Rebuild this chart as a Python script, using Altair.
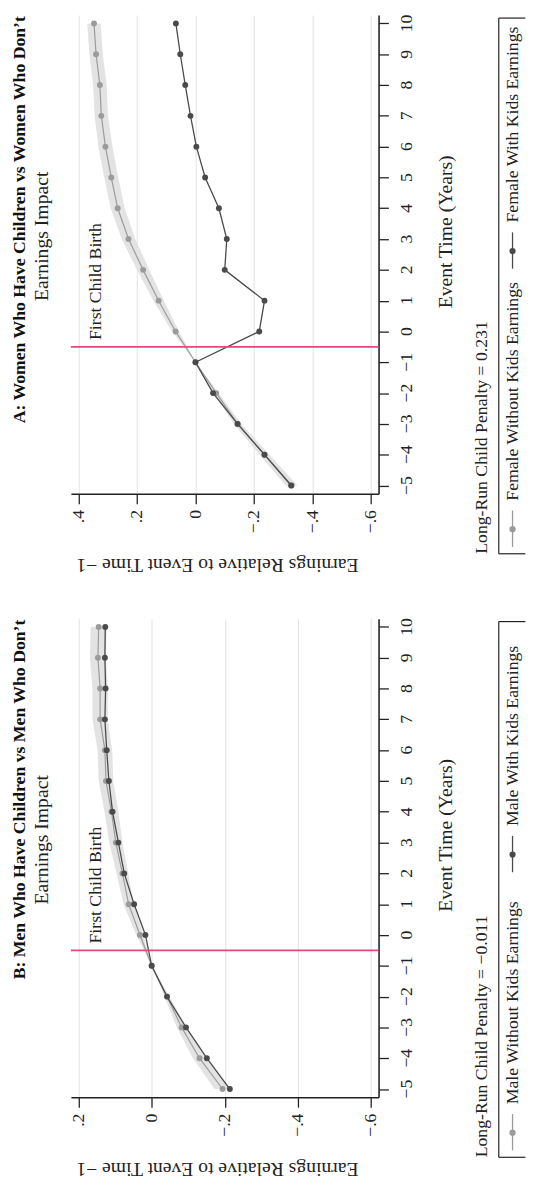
import altair as alt
import pandas as pd

# ---------------- data ----------------
event_time = list(range(-5, 11))

female_without = [-0.329, -0.236, -0.144, -0.071, 0.0, 0.068, 0.126, 0.179,
                  0.229, 0.266, 0.288, 0.308, 0.322, 0.327, 0.340, 0.347]
female_with = [-0.327, -0.236, -0.144, -0.060, 0.0, -0.218, -0.236, -0.100,
               -0.107, -0.080, -0.033, -0.003, 0.017, 0.035, 0.052, 0.067]
female_band_half = [0.020, 0.017, 0.013, 0.008, 0.0, 0.012, 0.018, 0.021,
                    0.023, 0.024, 0.024, 0.024, 0.023, 0.023, 0.023, 0.023]

male_without = [-0.194, -0.131, -0.082, -0.042, 0.0, 0.032, 0.063, 0.080,
                0.098, 0.110, 0.125, 0.128, 0.141, 0.141, 0.147, 0.145]
male_with = [-0.214, -0.151, -0.094, -0.042, 0.0, 0.017, 0.048, 0.075,
             0.091, 0.107, 0.117, 0.123, 0.128, 0.126, 0.128, 0.127]
male_band_half = [0.022, 0.018, 0.013, 0.007, 0.0, 0.010, 0.014, 0.016,
                  0.018, 0.019, 0.020, 0.020, 0.021, 0.021, 0.022, 0.022]

value_ticks_a = [0.4, 0.2, 0.0, -0.2, -0.4, -0.6]
value_ticks_b = [0.2, 0.0, -0.2, -0.4, -0.6]
value_domain_a = [-0.626, 0.426]
value_domain_b = [-0.621, 0.221]
time_domain = [-5.27, 10.27]
first_birth = -0.5

titles = ["A: Women Who Have Children vs Women Who Don\u2019t",
          "B: Men Who Have Children vs Men Who Don\u2019t"]
subtitle = "Earnings Impact"
birth_label = "First Child Birth"
penalty_labels = ["Long-Run Child Penalty = 0.231",
                  "Long-Run Child Penalty = \u22120.011"]
legend_labels = [["Female Without Kids Earnings", "Female With Kids Earnings"],
                 ["Male Without Kids Earnings", "Male With Kids Earnings"]]
x_title = "Earnings Relative to Event Time \u22121"
y_title = "Event Time (Years)"

# ---------------- style ----------------
FONT = "Liberation Serif"
W, H = 313, 487
LIGHT = "#9b9b9b"
DARK = "#4a4a4a"
BAND = "#e3e3e3"
RED = "#e8467c"
AXIS = "#222222"
TEXT = "#222222"
FS = 18
TFS = 20


def one(label):
    return alt.Chart(pd.DataFrame({"label": [label]}))


def panel(idx, without, with_, half, domain, ticks):
    df = pd.DataFrame({
        "t": event_time,
        "without": without,
        "with": with_,
        "lo": [w - h for w, h in zip(without, half)],
        "hi": [w + h for w, h in zip(without, half)],
        "tlabel": [str(t).replace("-", "\u2212") for t in event_time],
    })
    xs = alt.Scale(domain=domain, reverse=True, nice=False, zero=False)
    ys = alt.Scale(domain=time_domain, nice=False, zero=False)
    x_axis = alt.Axis(
        values=ticks, orient="bottom", title=x_title,
        grid=True, gridColor="#e2e2e2", gridWidth=1,
        domainColor=AXIS, domainWidth=1.6, tickColor=AXIS, tickWidth=1.3,
        tickSize=10, labelAngle=270, labelAlign="right", labelBaseline="middle",
        labelPadding=6, labelFontSize=FS, labelColor=TEXT,
        labelOverlap=False, labelFlush=False, labelBound=False,
        labelExpr="datum.value == 0 ? '0' : replace(format(datum.value, '.1f'), '0.', '.')",
        titleAngle=180, titleAlign="right", titleBaseline="alphabetic",
        titleX=5, titleY=66, titleFontSize=TFS, titleFontWeight="normal",
        titleColor=TEXT)
    y_axis = alt.Axis(
        values=event_time, orient="right", title=y_title, grid=False,
        domainColor=AXIS, domainWidth=1.6, tickColor=AXIS, tickWidth=1.3,
        tickSize=10, labels=False, labelOverlap=False,
        titleAngle=270, titleAlign="center", titleBaseline="alphabetic",
        titleX=74, titleY=220, titleFontSize=TFS, titleFontWeight="normal",
        titleColor=TEXT)

    def xe(f):
        return alt.X(f"{f}:Q", scale=xs, axis=x_axis)

    ye = alt.Y("t:Q", scale=ys, axis=y_axis)
    base = alt.Chart(df)

    band = base.mark_area(color=BAND, opacity=1, orient="horizontal").encode(
        x=xe("lo"), x2="hi:Q", y=ye)
    l1 = base.mark_line(color=LIGHT, strokeWidth=1.2).encode(
        x=xe("without"), y=ye, order="t:Q")
    p1 = base.mark_circle(color=LIGHT, size=36, opacity=1).encode(
        x=xe("without"), y=ye)
    l2 = base.mark_line(color=DARK, strokeWidth=1.3).encode(
        x=xe("with"), y=ye, order="t:Q")
    p2 = base.mark_circle(color=DARK, size=36, opacity=1).encode(
        x=xe("with"), y=ye)
    tlabels = base.mark_text(
        angle=270, align="center", baseline="top", fontSize=FS, color=TEXT).encode(
        x=alt.value(W + 20), y=ye, text="tlabel:N")

    rule = one("birth").mark_rule(color=RED, strokeWidth=1.6).encode(
        y=alt.Y(datum=first_birth, type="quantitative", scale=ys, axis=y_axis))
    birth = one(birth_label).mark_text(
        angle=270, align="left", baseline="alphabetic", dx=7, fontSize=FS,
        color=TEXT).encode(
        x=alt.value(30.5),
        y=alt.Y(datum=first_birth, type="quantitative", scale=ys, axis=y_axis),
        text="label:N")

    title = one(titles[idx]).mark_text(
        angle=270, align="right", baseline="alphabetic", fontSize=18,
        fontWeight="bold", color="#111111").encode(
        x=alt.value(-46.5), y=alt.value(1), text="label:N")
    sub = one(subtitle).mark_text(
        angle=270, align="center", baseline="alphabetic", fontSize=TFS,
        color=TEXT).encode(x=alt.value(-23), y=alt.value(225), text="label:N")

    penalty = one(penalty_labels[idx]).mark_text(
        angle=270, align="left", baseline="alphabetic", fontSize=FS,
        color=TEXT).encode(x=alt.value(423), y=alt.value(548), text="label:N")

    bx0, bx1, by0, by1 = 435.3, 462.3, 3, 548
    box_l = one("b").mark_rule(color=AXIS, strokeWidth=1.2).encode(
        x=alt.value(bx0), y=alt.value(by0), y2=alt.value(by1))
    box_t = one("b").mark_rule(color=AXIS, strokeWidth=1.2).encode(
        x=alt.value(bx0), x2=alt.value(bx1), y=alt.value(by0))
    box_b = one("b").mark_rule(color=AXIS, strokeWidth=1.2).encode(
        x=alt.value(bx0), x2=alt.value(bx1), y=alt.value(by1))

    legend_layers = []
    for k, (lab, col) in enumerate(zip(legend_labels[idx], [LIGHT, DARK])):
        start = by1 - k * 283
        legend_layers.append(one(lab).mark_rule(color=col, strokeWidth=1.3).encode(
            x=alt.value(449.3), y=alt.value(start - 7), y2=alt.value(start - 44)))
        legend_layers.append(one(lab).mark_circle(color=col, size=40, opacity=1).encode(
            x=alt.value(449.3), y=alt.value(start - 25)))
        legend_layers.append(one(lab).mark_text(
            angle=270, align="left", baseline="alphabetic", fontSize=18,
            color=TEXT).encode(x=alt.value(455), y=alt.value(start - 54), text="label:N"))

    return alt.layer(band, l1, p1, l2, p2, tlabels, rule, birth, title, sub, penalty,
                     box_l, box_t, box_b, *legend_layers).properties(width=W, height=H)


panel_a = panel(0, female_without, female_with, female_band_half, value_domain_a, value_ticks_a)
panel_b = panel(1, male_without, male_with, male_band_half, value_domain_b, value_ticks_b)

chart = alt.vconcat(panel_a, panel_b, spacing=127, bounds="flush").properties(
    padding={"left": 3, "top": -4, "right": 0, "bottom": 0}
).configure(font=FONT).configure_view(stroke=None)

chart.save("out.html", embed_options={"renderer": "svg", "actions": False})
